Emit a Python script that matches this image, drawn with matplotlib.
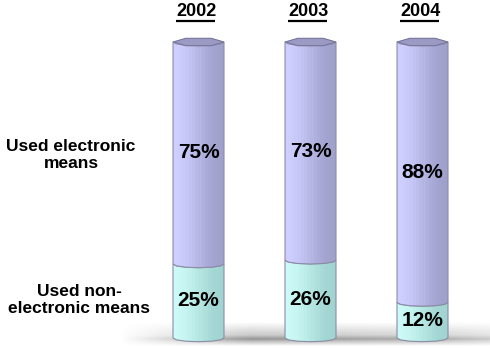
import numpy as np
import matplotlib.pyplot as plt
from matplotlib.path import Path
from matplotlib.patches import PathPatch, Polygon

years = ['2002', '2003', '2004']
electronic = [75, 73, 88]
non_electronic = [25, 26, 12]
row_labels = ['Used electronic\nmeans', 'Used non-\nelectronic means']

plt.rcParams['font.family'] = ['Liberation Sans', 'DejaVu Sans']

W, H = 490, 348
fig = plt.figure(figsize=(W / 100, H / 100), dpi=100)
fig.patch.set_facecolor('white')

# soft floor shadow under the columns (pixel space)
bg = fig.add_axes([0, 0, 1, 1])
bg.set_xlim(0, W)
bg.set_ylim(H, 0)
bg.axis('off')
ys = np.arange(H) + 0.5
xs = np.arange(W) + 0.5
vert = np.interp(ys, [322, 335, 339, 341, 346], [0, 0.5, 1, 0.65, 0])
horiz = np.interp(xs, [120, 250, 440, 490], [0, 1, 0.75, 0.5])
img = np.zeros((H, W, 4))
img[..., :3] = 0.4
img[..., 3] = np.outer(vert, horiz) * 0.7
bg.imshow(img, extent=(0, W, H, 0), interpolation='bilinear', aspect='auto')

ax = fig.add_axes([0, 0, 1, 1], facecolor='none')
ax.axis('off')
x0, dx = 198.5, 112.0   # first column centre and spacing, px
ppu = 2.96              # px per percentage point
y0 = 338.0              # baseline, px
ax.set_xlim(-x0 / dx, (W - x0) / dx)
ax.set_ylim(-(H - y0) / ppu, y0 / ppu)

w = 51 / dx
ry = 1.25
n_str = 16
frac = (np.arange(n_str) + 0.5) / n_str
light = 0.5 - 0.5 * np.cos(np.pi * frac)   # 0 at left edge -> 1 at right


def stripe_colors(c_left, c_right):
    a, b = np.array(c_left) / 255, np.array(c_right) / 255
    return [a * (1 - f) + b * f for f in light]


purple = stripe_colors((206, 206, 255), (160, 160, 205))
cyan = stripe_colors((204, 250, 246), (160, 212, 208))


def segment_path(xc, b, t, n=7):
    ang = np.linspace(np.pi, 2 * np.pi, n)
    arc_x = xc + w / 2 * np.cos(ang)
    arc_dy = ry * np.sin(ang)
    lower = np.column_stack([arc_x, b + arc_dy])
    upper = np.column_stack([arc_x[::-1], t + arc_dy[::-1]])
    verts = np.vstack([lower, upper, lower[:1]])
    return Path(verts, closed=True)


for i, yr in enumerate(years):
    total = electronic[i] + non_electronic[i]
    ne = non_electronic[i] / total * 100
    segs = [(0, ne, cyan, non_electronic[i]), (ne, 100, purple, electronic[i])]
    for b, t, cols, val in segs:
        clip = PathPatch(segment_path(i, b, t), transform=ax.transData)
        for k, c in enumerate(cols):
            xc = i - w / 2 + (k + 0.5) * w / n_str
            bar = ax.bar(xc, t - b + ry, bottom=b - ry, width=w / n_str * 1.1,
                         color=c, linewidth=0)
            bar[0].set_clip_path(clip)
        ax.add_patch(PathPatch(segment_path(i, b, t), fc='none',
                               ec='#8c8ca6', lw=0.8))
        ax.text(i, (b + t) / 2, f'{val}%', ha='center', va='center',
                fontsize=15, fontweight='bold', color='black')
    # faceted top cap
    cap = [(i - w / 2, 100), (i - w / 4, 100 + ry), (i + w / 4, 100 + ry),
           (i + w / 2, 100), (i + w / 4, 100 - ry), (i - w / 4, 100 - ry)]
    ax.add_patch(Polygon(cap, closed=True, fc='#9a9ac4', ec='#76769a', lw=0.8))
    # year header, underlined
    ax.text(i - 0.02, (y0 - 12) / ppu, yr, ha='center', va='center',
            fontsize=13, fontweight='bold')
    uy = (y0 - 21.5) / ppu
    ax.plot([i - 0.2, i + 0.15], [uy, uy], color='black', lw=1.6,
            solid_capstyle='butt')

fig.text(71 / W, 1 - 155 / H, row_labels[0], ha='center', va='center',
         fontsize=12.5, fontweight='bold', linespacing=1.2)
fig.text(79 / W, 1 - 300 / H, row_labels[1], ha='center', va='center',
         fontsize=12.5, fontweight='bold', linespacing=1.2)

fig.savefig('out.png', dpi=100, facecolor='white')
